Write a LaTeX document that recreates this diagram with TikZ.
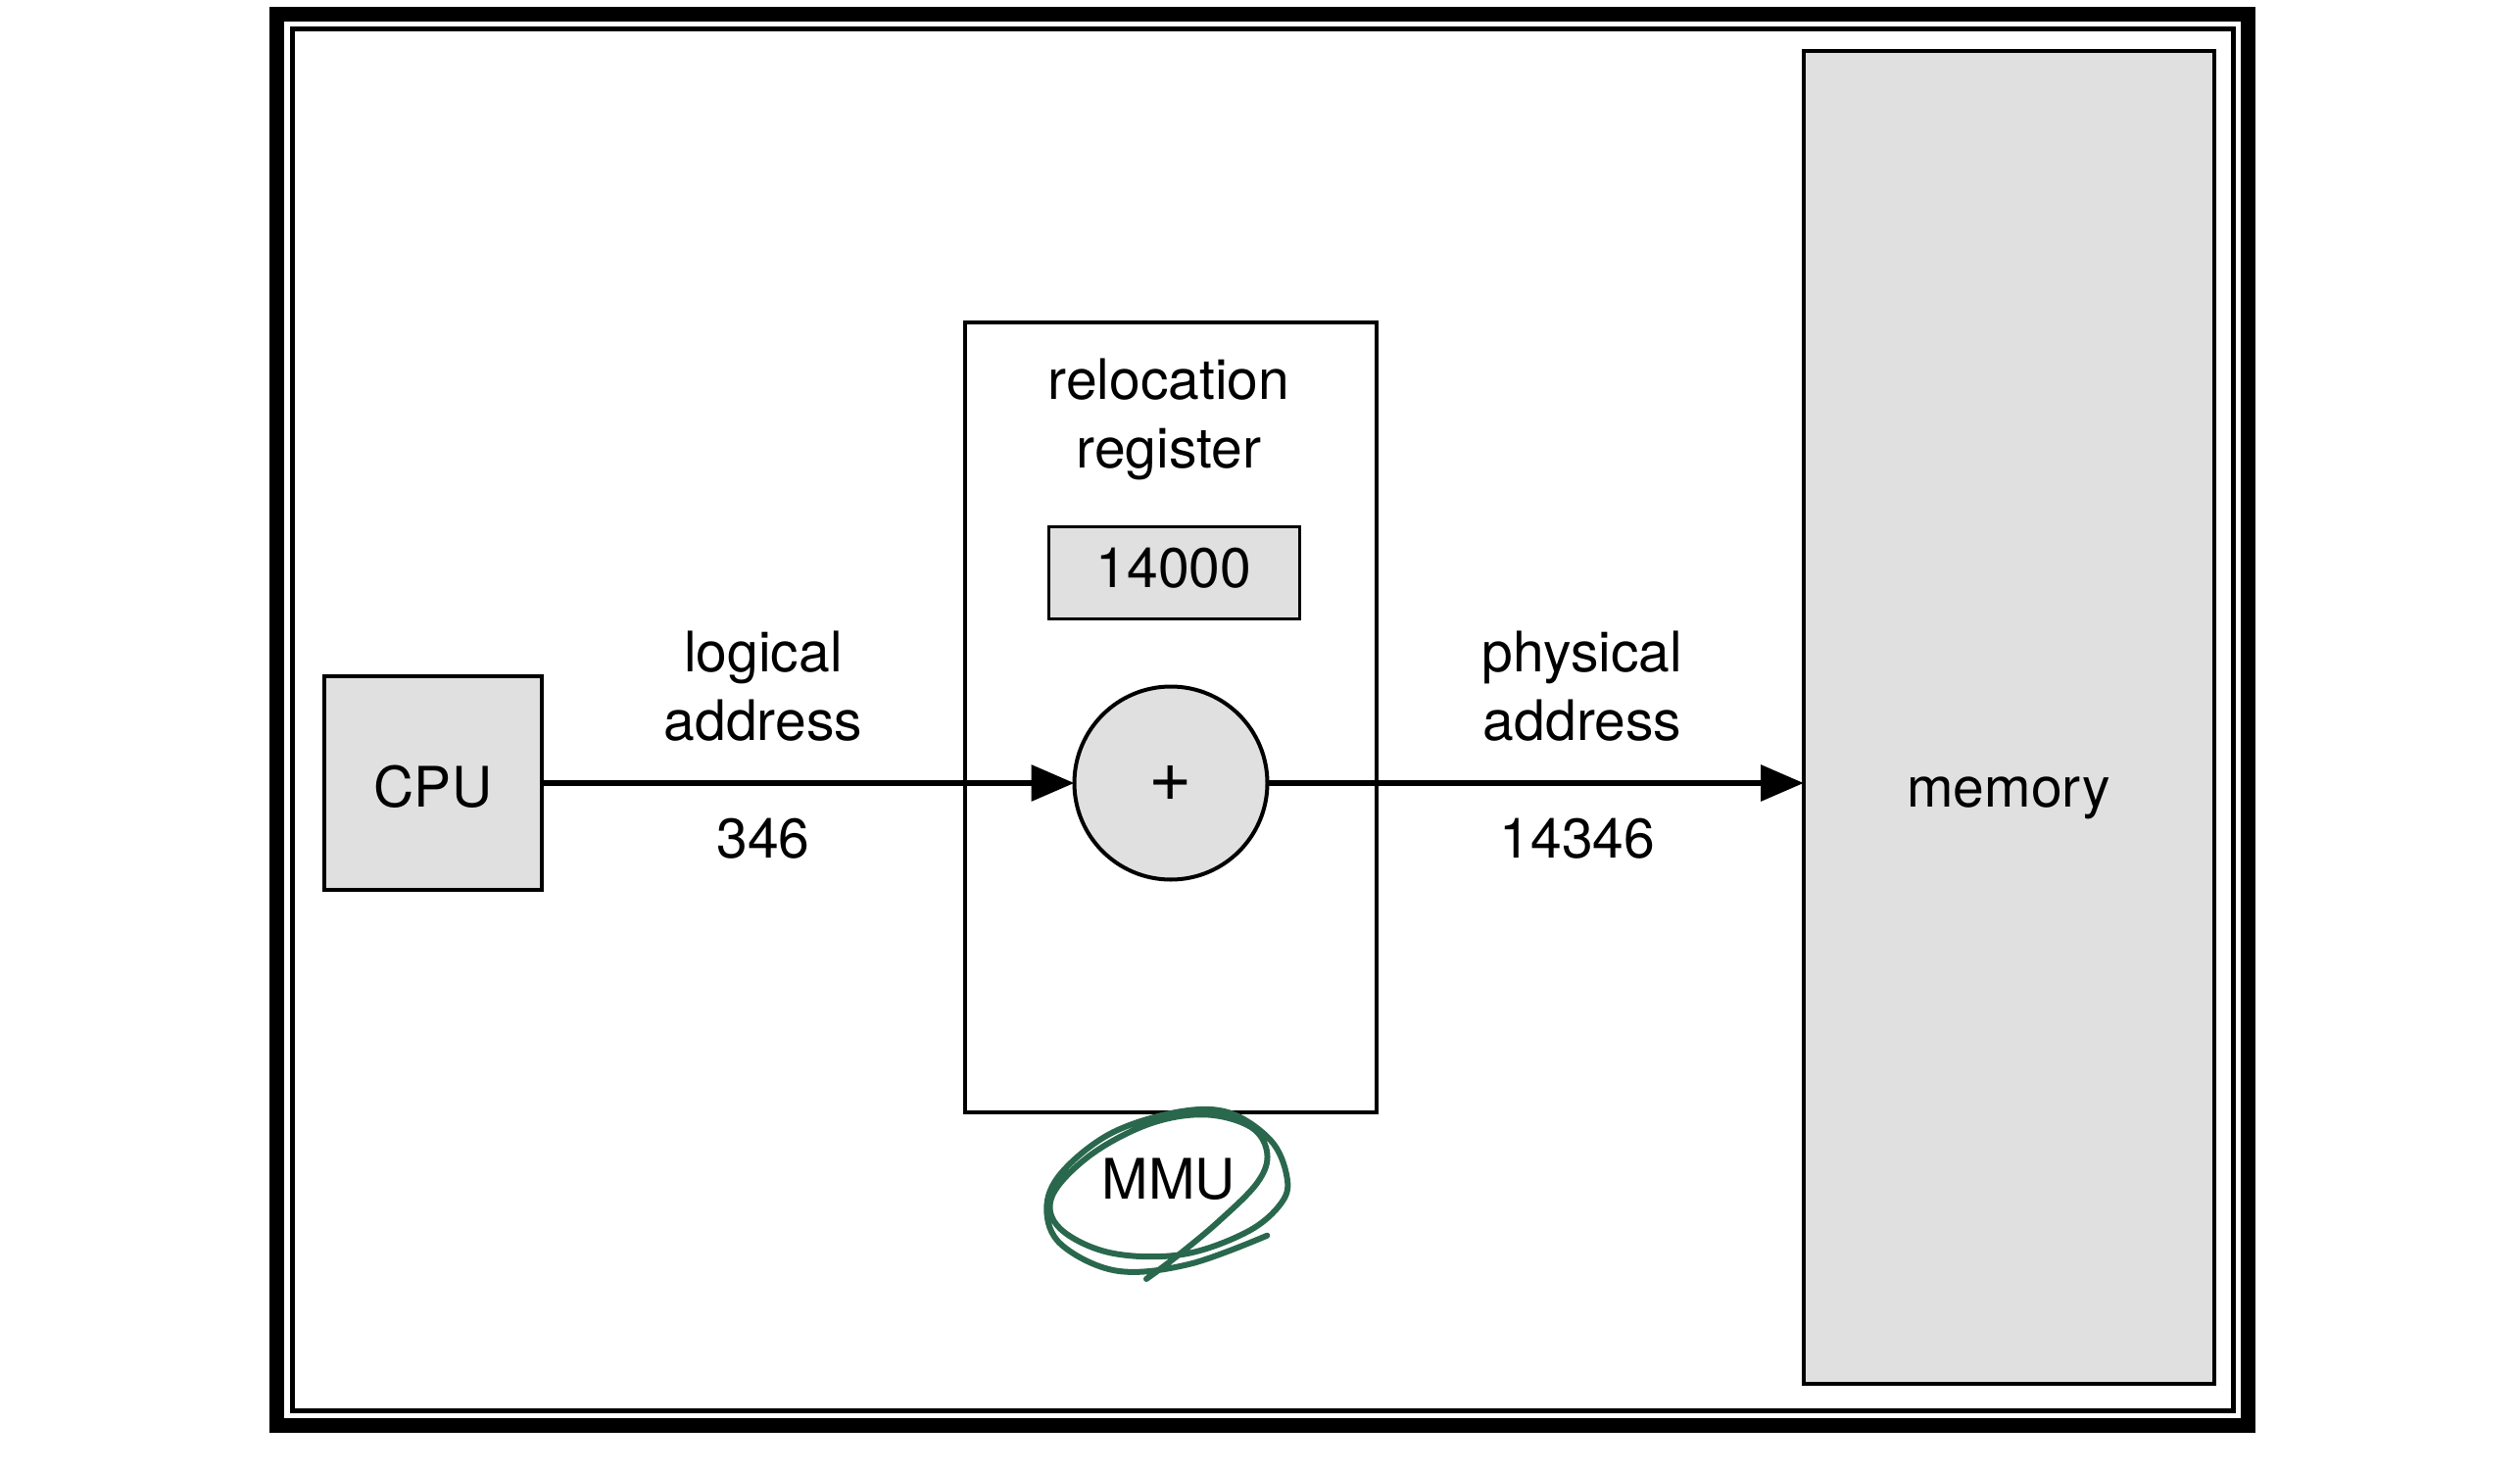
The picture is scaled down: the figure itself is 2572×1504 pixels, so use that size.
\documentclass[tikz,border=0pt]{standalone}
\usepackage{fontspec}
\setmainfont{TeX Gyre Heros}
\usetikzlibrary{arrows.meta}
\definecolor{boxgray}{RGB}{224,224,224}
\definecolor{penGreen}{RGB}{42,104,78}
\begin{document}
\begin{tikzpicture}[x=0.5pt,y=-0.5pt,
  every node/.style={inner sep=0pt,outer sep=0pt,font=\fontsize{28.5}{35}\selectfont},
  graybox/.style={draw=black,fill=boxgray,line width=2pt},
  mmubox/.style={draw=black,line width=2.2pt},
  regbox/.style={draw=black,fill=boxgray,line width=1.5pt},
  adder/.style={circle,draw=black,fill=boxgray,line width=2pt,minimum size=98.5pt},
  flow/.style={line width=3.2pt,-{Triangle[length=22pt,width=18pt]}},
  lbl/.style={align=center},
  scribble/.style={draw=penGreen,line width=3pt,line cap=round,line join=round}]
\useasboundingbox (0,0) rectangle (2572,1504);
% frame
\draw[line width=7.5pt] (282.5,14.5) rectangle (2294.5,1454.5);
\draw[line width=2.5pt] (298.5,29.5) rectangle (2279.5,1439.5);
% boxes
\node[graybox,minimum width=111pt,minimum height=109pt] (cpu) at (442,799) {\raisebox{-12pt}[0pt][0pt]{CPU}};
\node[mmubox,minimum width=210pt,minimum height=403pt] (mmu) at (1195,732) {};
\node[lbl] (reglbl) at (1193,428) {relocation\\register};
\node[regbox,minimum width=128pt,minimum height=47pt] (reg) at (1198,584) {\raisebox{-7.5pt}[0pt][0pt]{14000}};
\node[adder,font=\fontsize{38}{40}\selectfont] (plus) at (1195,799) {+};
\node[graybox,minimum width=209.5pt,minimum height=680pt] (mem) at (2050.5,732) {};
\node[anchor=base] (memlbl) at (2050,823) {memory};
% labels
\node[lbl] (loglbl) at (779,700) {logical\\address};
\node[anchor=base] (logval) at (779,875) {346};
\node[lbl] (phylbl) at (1615,700) {physical\\address};
\node[anchor=base] (phyval) at (1610,875) {14346};
\node[anchor=base] (mmulbl) at (1193,1223) {MMU};
% connectors
\draw[flow] (cpu.east) -- (plus.west);
\draw[flow] (plus.east) -- (plus.east -| mem.west);
% hand-drawn circle around MMU
\draw[scribble] plot[smooth,tension=0.6] coordinates {
 (1170,1305) (1200,1282.7) (1243.3,1246.7) (1283.3,1206.7) (1293.3,1176.7)
 (1276.7,1150) (1230,1137.3) (1173.3,1146.7) (1113.3,1178.3) (1074,1220)
 (1081.7,1253.3) (1133.3,1278.3) (1206.7,1280) (1273.3,1256.7) (1308.3,1226.7)
 (1313.3,1200) (1296.7,1163.3) (1253.3,1135) (1200,1135) (1133.3,1156.7)
 (1083.3,1196.7) (1068.3,1233.3) (1083.3,1270) (1140,1296.7) (1213.3,1290)
 (1293.3,1260.7)};
\end{tikzpicture}
\end{document}
